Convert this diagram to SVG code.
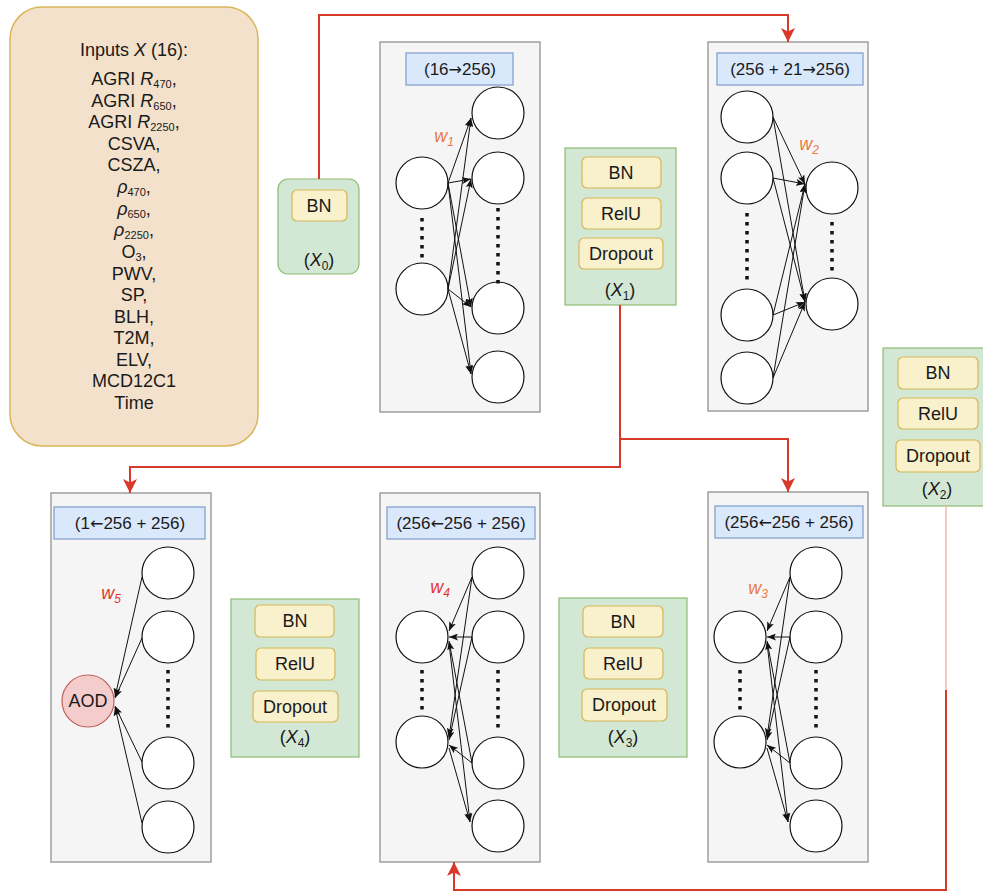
<svg xmlns="http://www.w3.org/2000/svg" width="983" height="894" viewBox="0 0 983 894">
<defs>
<style>
.panel{fill:#f5f5f5;stroke:#9e9e9e;stroke-width:1.5}
.lbl{fill:#dae8fc;stroke:#7d9cc9;stroke-width:1.2}
.grn{fill:#d3e8d4;stroke:#8dbb72;stroke-width:1.2}
.yel{fill:#f9f0cc;stroke:#d6b656;stroke-width:1.2}
.neu{fill:#ffffff;stroke:#111;stroke-width:1.2}
.dots{stroke:#111;stroke-width:3.5;stroke-dasharray:3.5 5.5;fill:none}
.t{font-family:"Liberation Sans",Arial,sans-serif;font-size:18px;fill:#1a1a1a;text-anchor:middle}
.tl{font-family:"Liberation Sans",Arial,sans-serif;font-size:17px;fill:#1a1a1a;text-anchor:middle}
.arw{font-family:"DejaVu Sans",sans-serif;font-size:16px}
.w{font-family:"Liberation Sans",Arial,sans-serif;font-size:18px;text-anchor:middle;font-style:italic}
.wo{fill:#ea7a45}
.wr{fill:#e3342f}
.red{stroke:#d9392b;stroke-width:2;fill:none}
.redm{marker-end:url(#ar)}
.edge{stroke:#111;stroke-width:1;fill:none;marker-end:url(#ab)}
</style>
<marker id="ar" viewBox="0 0 14 14" refX="14" refY="7" markerWidth="14" markerHeight="14" orient="auto" markerUnits="userSpaceOnUse"><path d="M0,0 L14,7 L0,14 L3.5,7 Z" fill="#d9392b"/></marker>
<marker id="ab" viewBox="0 0 9 7" refX="9" refY="3.5" markerWidth="9" markerHeight="7" orient="auto" markerUnits="userSpaceOnUse"><path d="M0,0 L9,3.5 L0,7 L2,3.5 Z" fill="#111"/></marker>
</defs>
<rect width="983" height="894" fill="#ffffff"/>

<g id="inputs">
<rect x="10" y="7" width="248" height="439" rx="32" fill="#f3e1cb" stroke="#d9b65b" stroke-width="1.5"/>
<text class="t" x="134" y="56">Inputs <tspan font-style="italic">X</tspan> (16):</text>
<text class="t" x="134" y="85">AGRI <tspan font-style="italic">R</tspan><tspan font-size="11" dy="3">470</tspan><tspan dy="-3">,</tspan></text>
<text class="t" x="134" y="107">AGRI <tspan font-style="italic">R</tspan><tspan font-size="11" dy="3">650</tspan><tspan dy="-3">,</tspan></text>
<text class="t" x="134" y="128">AGRI <tspan font-style="italic">R</tspan><tspan font-size="11" dy="3">2250</tspan><tspan dy="-3">,</tspan></text>
<text class="t" x="134" y="150">CSVA,</text>
<text class="t" x="134" y="171">CSZA,</text>
<text class="t" x="134" y="193"><tspan font-style="italic">ρ</tspan><tspan font-size="11" dy="3">470</tspan><tspan dy="-3">,</tspan></text>
<text class="t" x="134" y="215"><tspan font-style="italic">ρ</tspan><tspan font-size="11" dy="3">650</tspan><tspan dy="-3">,</tspan></text>
<text class="t" x="134" y="236"><tspan font-style="italic">ρ</tspan><tspan font-size="11" dy="3">2250</tspan><tspan dy="-3">,</tspan></text>
<text class="t" x="134" y="258">O<tspan font-size="11" dy="3">3</tspan><tspan dy="-3">,</tspan></text>
<text class="t" x="134" y="280">PWV,</text>
<text class="t" x="134" y="301">SP,</text>
<text class="t" x="134" y="323">BLH,</text>
<text class="t" x="134" y="344">T2M,</text>
<text class="t" x="134" y="366">ELV,</text>
<text class="t" x="134" y="387">MCD12C1</text>
<text class="t" x="134" y="409">Time</text>
</g>

<g id="x0">
<rect class="grn" x="278" y="179" width="81" height="95" rx="10"/>
<rect class="yel" x="292" y="190" width="55" height="31" rx="5"/>
<text class="t" x="319" y="212">BN</text>
<text class="t" x="319" y="266">(<tspan font-style="italic">X</tspan><tspan font-size="12" dy="4">0</tspan><tspan dy="-4">)</tspan></text>
</g>

<g id="layer1">
<rect class="panel" x="380" y="42" width="160" height="370"/>
<rect class="lbl" x="406" y="53" width="107" height="32"/>
<text class="tl" x="460" y="75">(16<tspan class="arw">→</tspan>256)</text>
<circle class="neu" cx="422" cy="183" r="26"/>
<circle class="neu" cx="422" cy="289" r="26"/>
<circle class="neu" cx="498" cy="113" r="26"/>
<circle class="neu" cx="498" cy="178" r="26"/>
<circle class="neu" cx="498" cy="308" r="26"/>
<circle class="neu" cx="498" cy="377" r="26"/>
<line class="dots" x1="422" y1="218" x2="422" y2="260"/>
<line class="dots" x1="498" y1="208" x2="498" y2="286"/>
<text class="w wo" x="444" y="142">w<tspan font-size="12" dy="4">1</tspan></text>
</g>

<g id="x1">
<rect class="grn" x="565" y="148" width="111" height="157"/>
<rect class="yel" x="582" y="157" width="79" height="31" rx="5"/>
<rect class="yel" x="582" y="198" width="79" height="31" rx="5"/>
<rect class="yel" x="579" y="238" width="84" height="31" rx="5"/>
<text class="t" x="621" y="179">BN</text>
<text class="t" x="621" y="220">RelU</text>
<text class="t" x="621" y="260">Dropout</text>
<text class="t" x="620" y="296">(<tspan font-style="italic">X</tspan><tspan font-size="12" dy="4">1</tspan><tspan dy="-4">)</tspan></text>
</g>

<g id="layer2">
<rect class="panel" x="708" y="42" width="160" height="369"/>
<rect class="lbl" x="717" y="53" width="146" height="32"/>
<text class="tl" x="790" y="75">(256 + 21<tspan class="arw">→</tspan>256)</text>
<circle class="neu" cx="747" cy="117" r="26"/>
<circle class="neu" cx="747" cy="178" r="26"/>
<circle class="neu" cx="747" cy="315" r="26"/>
<circle class="neu" cx="747" cy="378" r="26"/>
<circle class="neu" cx="832" cy="188" r="26"/>
<circle class="neu" cx="832" cy="304" r="26"/>
<line class="dots" x1="747" y1="213" x2="747" y2="284"/>
<line class="dots" x1="832" y1="222" x2="832" y2="274"/>
<text class="w wo" x="809" y="150">w<tspan font-size="12" dy="4">2</tspan></text>
</g>

<g id="x2">
<rect class="grn" x="883" y="348" width="110" height="158"/>
<rect class="yel" x="898" y="357" width="80" height="32" rx="5"/>
<rect class="yel" x="898" y="398" width="80" height="31" rx="5"/>
<rect class="yel" x="896" y="440" width="84" height="32" rx="5"/>
<text class="t" x="938" y="379">BN</text>
<text class="t" x="938" y="420">RelU</text>
<text class="t" x="938" y="462">Dropout</text>
<text class="t" x="937" y="495">(<tspan font-style="italic">X</tspan><tspan font-size="12" dy="4">2</tspan><tspan dy="-4">)</tspan></text>
</g>

<g id="layer5">
<rect class="panel" x="51" y="493" width="160" height="369"/>
<rect class="lbl" x="54" y="507" width="151" height="32"/>
<text class="tl" x="130" y="529">(1<tspan class="arw">←</tspan>256 + 256)</text>
<circle class="neu" cx="168" cy="573" r="26"/>
<circle class="neu" cx="168" cy="637" r="26"/>
<circle class="neu" cx="168" cy="763" r="26"/>
<circle class="neu" cx="168" cy="827" r="26"/>
<line class="dots" x1="168" y1="670" x2="168" y2="730"/>
<text class="w wr" x="111" y="599">w<tspan font-size="12" dy="4">5</tspan></text>
</g>

<g id="aod">
<circle cx="88" cy="701" r="26" fill="#f4cccc" stroke="#c0605c" stroke-width="1.2"/>
<text class="t" x="88" y="707">AOD</text>
</g>

<g id="x4">
<rect class="grn" x="231" y="599" width="128" height="158"/>
<rect class="yel" x="255" y="605" width="79" height="32" rx="5"/>
<rect class="yel" x="256" y="648" width="79" height="32" rx="5"/>
<rect class="yel" x="253" y="691" width="85" height="31" rx="5"/>
<text class="t" x="295" y="627">BN</text>
<text class="t" x="295" y="670">RelU</text>
<text class="t" x="295" y="713">Dropout</text>
<text class="t" x="295" y="743">(<tspan font-style="italic">X</tspan><tspan font-size="12" dy="4">4</tspan><tspan dy="-4">)</tspan></text>
</g>

<g id="layer4">
<rect class="panel" x="380" y="493" width="160" height="369"/>
<rect class="lbl" x="387" y="507" width="148" height="32"/>
<text class="tl" x="461" y="529">(256<tspan class="arw">←</tspan>256 + 256)</text>
<circle class="neu" cx="422" cy="637" r="26"/>
<circle class="neu" cx="422" cy="742" r="26"/>
<circle class="neu" cx="498" cy="573" r="26"/>
<circle class="neu" cx="498" cy="637" r="26"/>
<circle class="neu" cx="498" cy="763" r="26"/>
<circle class="neu" cx="498" cy="826" r="26"/>
<line class="dots" x1="422" y1="670" x2="422" y2="712"/>
<line class="dots" x1="498" y1="670" x2="498" y2="730"/>
<text class="w wr" x="440" y="593">w<tspan font-size="12" dy="4">4</tspan></text>
</g>

<g id="x3">
<rect class="grn" x="559" y="598" width="128" height="159"/>
<rect class="yel" x="583" y="606" width="80" height="31" rx="5"/>
<rect class="yel" x="584" y="648" width="79" height="31" rx="5"/>
<rect class="yel" x="582" y="689" width="85" height="32" rx="5"/>
<text class="t" x="623" y="628">BN</text>
<text class="t" x="623" y="670">RelU</text>
<text class="t" x="624" y="711">Dropout</text>
<text class="t" x="623" y="743">(<tspan font-style="italic">X</tspan><tspan font-size="12" dy="4">3</tspan><tspan dy="-4">)</tspan></text>
</g>

<g id="layer3">
<rect class="panel" x="708" y="492" width="160" height="370"/>
<rect class="lbl" x="715" y="506" width="148" height="32"/>
<text class="tl" x="789" y="528">(256<tspan class="arw">←</tspan>256 + 256)</text>
<circle class="neu" cx="740" cy="637" r="26"/>
<circle class="neu" cx="740" cy="742" r="26"/>
<circle class="neu" cx="816" cy="573" r="26"/>
<circle class="neu" cx="816" cy="637" r="26"/>
<circle class="neu" cx="816" cy="763" r="26"/>
<circle class="neu" cx="816" cy="826" r="26"/>
<line class="dots" x1="740" y1="670" x2="740" y2="712"/>
<line class="dots" x1="816" y1="670" x2="816" y2="730"/>
<text class="w wo" x="758" y="594">w<tspan font-size="12" dy="4">3</tspan></text>
</g>

<g id="connectors">
<line class="edge" x1="448" y1="183" x2="471" y2="118"/>
<line class="edge" x1="448" y1="183" x2="471" y2="179"/>
<line class="edge" x1="448" y1="183" x2="471" y2="307"/>
<line class="edge" x1="448" y1="183" x2="471" y2="374"/>
<line class="edge" x1="448" y1="289" x2="471" y2="118"/>
<line class="edge" x1="448" y1="289" x2="471" y2="179"/>
<line class="edge" x1="448" y1="289" x2="471" y2="307"/>
<line class="edge" x1="448" y1="289" x2="471" y2="374"/>
<line class="edge" x1="773" y1="117" x2="805" y2="184"/>
<line class="edge" x1="773" y1="117" x2="805" y2="302"/>
<line class="edge" x1="773" y1="178" x2="805" y2="184"/>
<line class="edge" x1="773" y1="178" x2="805" y2="302"/>
<line class="edge" x1="773" y1="315" x2="805" y2="184"/>
<line class="edge" x1="773" y1="315" x2="805" y2="302"/>
<line class="edge" x1="773" y1="378" x2="805" y2="184"/>
<line class="edge" x1="773" y1="378" x2="805" y2="302"/>
<line class="edge" x1="142" y1="577" x2="115" y2="697"/>
<line class="edge" x1="142" y1="638" x2="115" y2="698"/>
<line class="edge" x1="142" y1="762" x2="115" y2="706"/>
<line class="edge" x1="142" y1="823" x2="115" y2="707"/>
<line class="edge" x1="472" y1="577" x2="449" y2="631"/>
<line class="edge" x1="472" y1="577" x2="449" y2="737"/>
<line class="edge" x1="472" y1="637" x2="449" y2="637"/>
<line class="edge" x1="472" y1="637" x2="449" y2="740"/>
<line class="edge" x1="472" y1="763" x2="449" y2="641"/>
<line class="edge" x1="472" y1="763" x2="449" y2="745"/>
<line class="edge" x1="449" y1="643" x2="470" y2="822"/>
<line class="edge" x1="449" y1="748" x2="470" y2="822"/>
<line class="edge" x1="790" y1="577" x2="767" y2="631"/>
<line class="edge" x1="790" y1="577" x2="767" y2="737"/>
<line class="edge" x1="790" y1="637" x2="767" y2="637"/>
<line class="edge" x1="790" y1="637" x2="767" y2="740"/>
<line class="edge" x1="790" y1="763" x2="767" y2="641"/>
<line class="edge" x1="790" y1="763" x2="767" y2="745"/>
<line class="edge" x1="767" y1="643" x2="788" y2="822"/>
<line class="edge" x1="767" y1="748" x2="788" y2="822"/>
<path class="red redm" d="M319,179 V15 H788 V42"/>
<path class="red" d="M620,305 V467 H130"/>
<path class="red redm" d="M130,466 V493"/>
<path class="red redm" d="M620,439 H788 V492"/>
<line x1="946" y1="506" x2="946" y2="690" stroke="#f1b9ad" stroke-width="1.5"/>
<path class="red redm" d="M946,690 V890 H454 V862"/>
</g>
</svg>
